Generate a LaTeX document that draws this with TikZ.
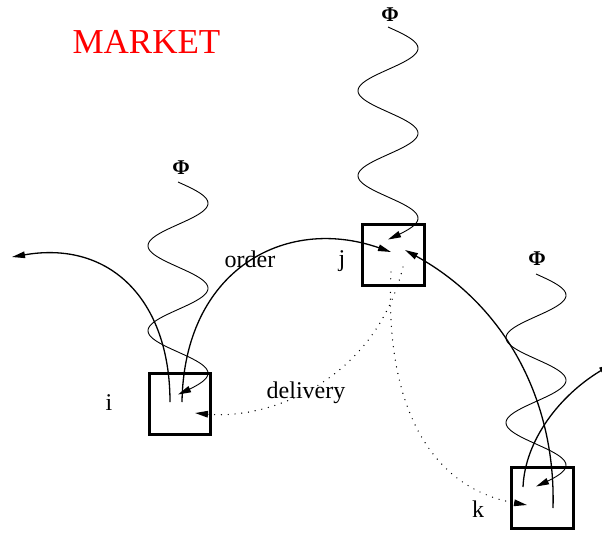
\documentclass[tikz,border=0pt]{standalone}
\usepackage{fontspec}
\setmainfont{Liberation Serif}
\usetikzlibrary{arrows.meta}

\begin{document}
\begin{tikzpicture}[x=1pt, y=-1pt,
  stock/.style={draw, line width=2.6pt, minimum size=61.5pt, inner sep=0pt},
  tag/.style={font=\fontsize{24}{28}\selectfont, anchor=base, inner sep=0pt},
  shock/.style={font=\fontsize{21}{24}\selectfont\bfseries, anchor=base, inner sep=0pt},
  tip/.style={-{Triangle[length=13pt,width=6.5pt]}},
  flow/.style={tip, line width=1.3pt},
  ship/.style={tip, line width=1.4pt, line cap=round, dash pattern=on 0pt off 6.8pt},
  noise/.style={tip, line width=0.9pt}]

\useasboundingbox (0,0) rectangle (602,533);
\clip (0,0) rectangle (602,533);

% firms
\node[stock] (i) at (180,404) {};
\node[stock] (j) at (393.5,255) {};
\node[stock] (k) at (542.5,498) {};

% labels
\node[font=\fontsize{35}{40}\selectfont, text=red, anchor=base, inner sep=0pt] (mkt) at (146.5,53) {MARKET};
\node[tag] (li) at (109,410) {i};
\node[tag] (lj) at (342,266) {j};
\node[tag] (lk) at (478,517) {k};
\node[tag] (lorder) at (250,267) {order};
\node[tag] (ldel) at (306,398) {delivery};
\node[shock] (phj) at (390,21) {Φ};
\node[shock] (phi) at (181,174) {Φ};
\node[shock] (phk) at (537,265) {Φ};

% shock tails
\coordinate (wj) at (388,27);
\coordinate (wi) at (178,182);
\coordinate (wk) at (536,274);

% connector ends
\coordinate (iout) at (170,402);
\coordinate (iord) at (182,402);
\coordinate (exitW) at (12,257);
\coordinate (jin) at (391,252);
\coordinate (jinR) at (405,250);
\coordinate (kup) at (553,508);
\coordinate (kout) at (523,487);
\coordinate (exitE) at (612,364);
\coordinate (jdi) at (403,267);
\coordinate (jdk) at (391,272);
\coordinate (iin) at (195,413);
\coordinate (kin) at (527,505);

% random shocks: 2.5 periods of a sine, period 85, amplitude 30
\foreach \w in {wj,wi,wk}
  \draw[noise, shift={(\w)}] plot[domain=0:212.5, samples=150, smooth]
    ({30*sin(4.235294*\x)}, {\x});

% orders
\draw[flow] (iord) .. controls (184,270) and (285,215) .. (jin);
\draw[flow] (iout) .. controls (170,300) and (110,240) .. (exitW);
\draw[flow] (kup) .. controls (556,400) and (505,305) .. (jinR);
\draw[flow] (kout) .. controls (525,440) and (560,395) .. (exitE);

% deliveries
\draw[ship] (jdi) .. controls (375,380) and (270,420) .. (iin);
\draw[ship] (jdk) .. controls (384,420) and (440,490) .. (kin);

\end{tikzpicture}
\end{document}
